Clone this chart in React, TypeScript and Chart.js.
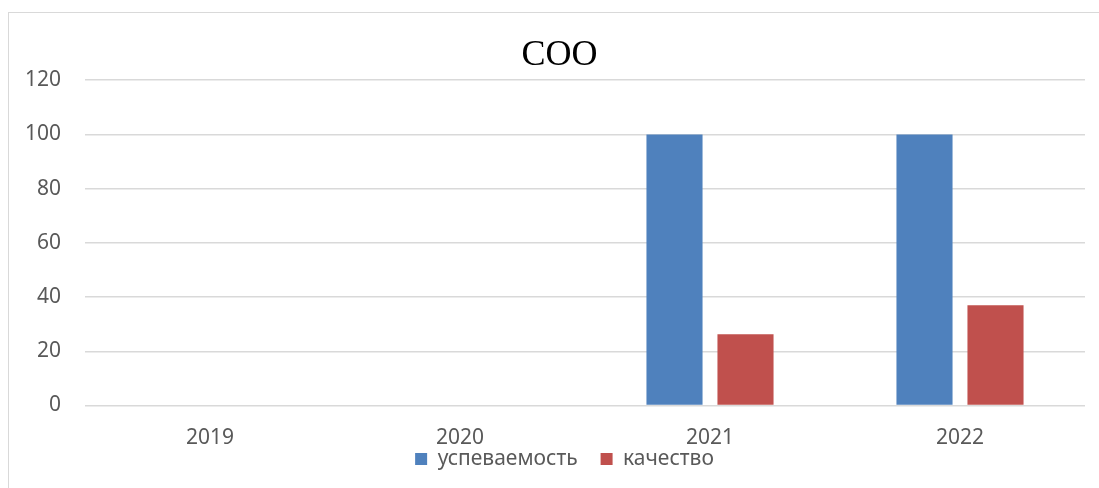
import React, { useEffect, useRef } from "react";
import { Chart, registerables } from "chart.js";

Chart.register(...registerables);

const categories = ["2019", "2020", "2021", "2022"];
const uspevaemost: (number | null)[] = [null, null, 100, 100];
const kachestvo: (number | null)[] = [null, null, 26.3, 37];
const seriesNames = ["успеваемость", "качество"];
const titleText = "СОО";
const yMin = 0;
const yMax = 120;
const yStep = 20;

const shiftBlocks = {
  id: "shiftBlocks",
  afterLayout(chart: any) {
    if (chart.titleBlock) chart.titleBlock.left = 34;
    if (chart.legend) chart.legend.left = 44;
  },
};

export default function App() {
  const ref = useRef<HTMLCanvasElement | null>(null);

  useEffect(() => {
    if (!ref.current) return;
    const chart = new Chart(ref.current, {
      type: "bar",
      data: {
        labels: categories,
        datasets: [
          {
            label: seriesNames[0],
            data: uspevaemost,
            backgroundColor: "#4F81BD",
            categoryPercentage: 0.568,
            barPercentage: 0.79,
          },
          {
            label: seriesNames[1],
            data: kachestvo,
            backgroundColor: "#C0504D",
            categoryPercentage: 0.568,
            barPercentage: 0.79,
          },
        ],
      },
      plugins: [shiftBlocks],
      options: {
        responsive: false,
        animation: false,
        layout: { padding: { left: 0, right: 14, top: 0, bottom: 8.5 } },
        plugins: {
          title: {
            display: true,
            text: titleText,
            color: "#000000",
            font: { family: "'Liberation Serif', 'Times New Roman', serif", size: 36, weight: "normal" },
            padding: { top: 34, bottom: 3 },
          },
          legend: {
            display: true,
            position: "bottom",
            labels: {
              color: "#595959",
              font: { family: "'Noto Sans', sans-serif", size: 21 },
              boxWidth: 12,
              boxHeight: 12,
              padding: 2,
              generateLabels: (c: any) => {
                const items = Chart.defaults.plugins.legend.labels.generateLabels(c);
                return items.map((it: any, i: number) => ({
                  ...it,
                  text: i < items.length - 1 ? it.text + "\u2003" : it.text,
                }));
              },
            },
          },
          tooltip: { enabled: false },
        },
        scales: {
          x: {
            grid: { display: false, drawTicks: false },
            border: { display: false },
            ticks: {
              color: "#595959",
              font: { family: "'Noto Sans', sans-serif", size: 21 },
              padding: 20,
            },
            afterFit: (scale: any) => {
              scale.height = 41;
            },
          },
          y: {
            min: yMin,
            max: yMax,
            grid: { color: "#d9d9d9", lineWidth: 1.5, drawTicks: false },
            border: { display: false },
            ticks: {
              stepSize: yStep,
              color: "#595959",
              font: { family: "'Noto Sans', sans-serif", size: 21 },
              padding: 24,
            },
            afterFit: (scale: any) => {
              scale.width = 85;
            },
          },
        },
      },
    });
    return () => chart.destroy();
  }, []);

  return (
    <div
      style={{
        position: "fixed",
        left: 0,
        top: 0,
        width: 1099,
        height: 488,
        overflow: "hidden",
        background: "#ffffff",
      }}
    >
      <div
        style={{
          position: "absolute",
          left: 8,
          top: 12,
          width: 1200,
          height: 600,
          border: "1px solid #d9d9d9",
        }}
      />
      <canvas
        ref={ref}
        width={1099}
        height={488}
        style={{ position: "absolute", left: 0, top: 0, width: 1099, height: 488 }}
      />
    </div>
  );
}
